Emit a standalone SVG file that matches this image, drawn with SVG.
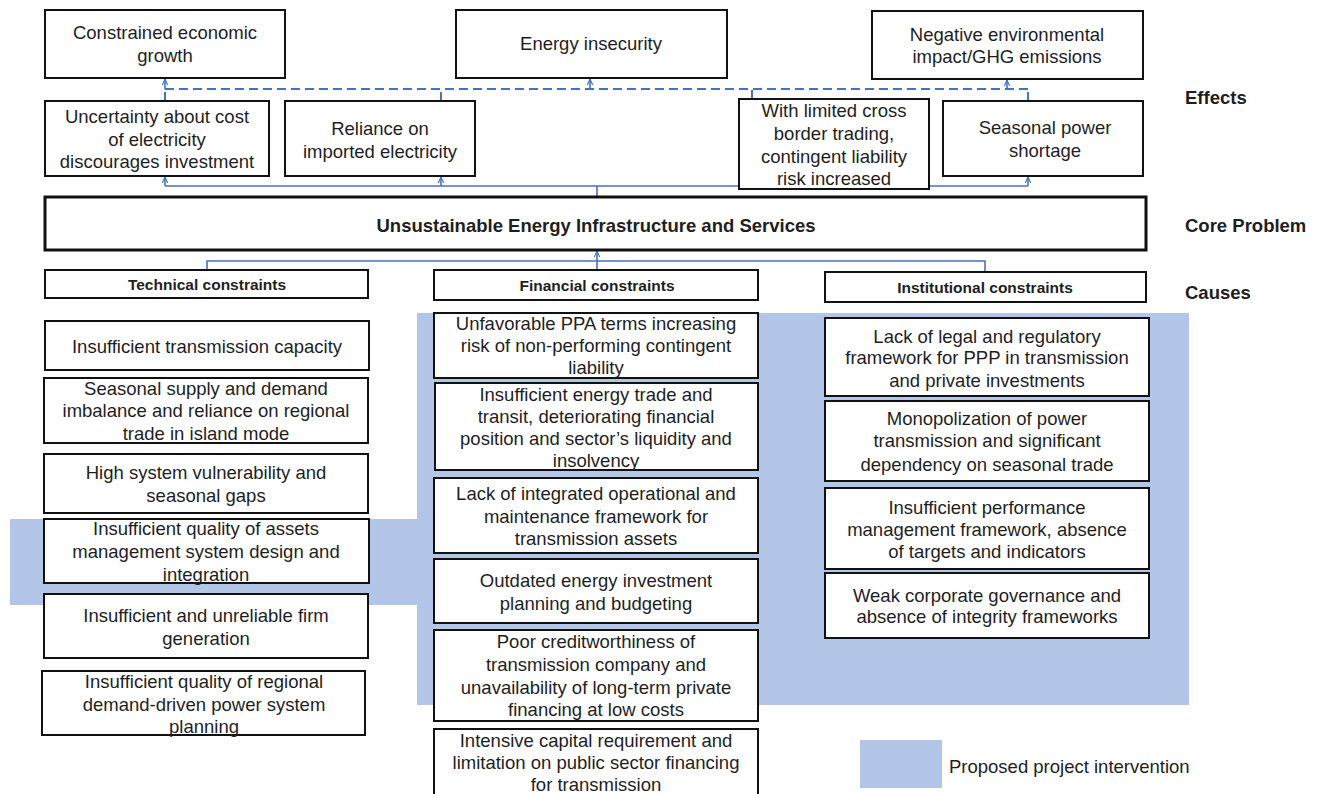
<svg xmlns="http://www.w3.org/2000/svg" width="1322" height="794" viewBox="0 0 1322 794">
<style>
text{font-family:"Liberation Sans",Arial,sans-serif;font-size:18.5px;fill:#1e1e1e;text-anchor:middle}
.b{font-weight:bold}
.h{font-weight:bold;font-size:15.5px}
.lbl{text-anchor:start;font-weight:bold}
.box{fill:#fff;stroke:#111;stroke-width:2}
.core{fill:#fff;stroke:#111;stroke-width:3}
.ln{fill:none;stroke:#4472c4;stroke-width:1.6}
.ds{fill:none;stroke:#4472c4;stroke-width:2;stroke-dasharray:9 5}
.iv{fill:#b4c6e7}
</style>
<defs>
<marker id="ah" viewBox="0 0 10 10" refX="9" refY="5" markerWidth="7" markerHeight="7" orient="auto" markerUnits="userSpaceOnUse">
<path d="M0,1 L9,5 L0,9" fill="none" stroke="#4472c4" stroke-width="1.6"/>
</marker>
</defs>
<rect width="1322" height="794" fill="#fff"/>
<g id="intervention">
<rect class="iv" x="417" y="313" width="772" height="392"/>
<rect class="iv" x="10" y="519" width="408" height="86"/>
</g>
<g id="connectors">
<path class="ds" d="M165,89 H1028"/>
<path class="ds" d="M165,101 V89"/>
<path class="ds" d="M441,101 V89"/>
<path class="ds" d="M752,99 V89"/>
<path class="ds" d="M1028,101 V89"/>
<path class="ln" d="M165,89 V79" marker-end="url(#ah)"/>
<path class="ln" d="M590,89 V79" marker-end="url(#ah)"/>
<path class="ln" d="M1007,89 V80" marker-end="url(#ah)"/>
<path class="ln" d="M597,197 V186 M165,186 H1028"/>
<path class="ln" d="M165,186 V177" marker-end="url(#ah)"/>
<path class="ln" d="M441,186 V177" marker-end="url(#ah)"/>
<path class="ln" d="M752,186 V177" marker-end="url(#ah)"/>
<path class="ln" d="M1028,186 V177" marker-end="url(#ah)"/>
<path class="ln" d="M207,270 V261 H985 V272"/>
<path class="ln" d="M597,270 V251" marker-end="url(#ah)"/>
</g>
<g id="e1"><rect class="box" x="45" y="10" width="240" height="68"/><text x="165" y="39">Constrained economic</text><text x="165" y="62">growth</text></g>
<g id="e2"><rect class="box" x="456" y="10" width="271" height="68"/><text x="591" y="50">Energy insecurity</text></g>
<g id="e3"><rect class="box" x="872" y="11" width="271" height="68"/><text x="1007" y="41">Negative environmental</text><text x="1007" y="63">impact/GHG emissions</text></g>
<g id="e4"><rect class="box" x="45" y="101" width="224" height="75"/><text x="157" y="123">Uncertainty about cost</text><text x="157" y="146">of electricity</text><text x="157" y="168">discourages investment</text></g>
<g id="e5"><rect class="box" x="285" y="101" width="190" height="75"/><text x="380" y="135">Reliance on</text><text x="380" y="158">imported electricity</text></g>
<g id="e6"><rect class="box" x="739" y="99" width="190" height="90" fill="none"/><text x="834" y="117">With limited cross</text><text x="834" y="140">border trading,</text><text x="834" y="163">contingent liability</text><text x="834" y="185">risk increased</text></g>
<g id="e7"><rect class="box" x="943" y="101" width="200" height="75"/><text x="1045" y="134">Seasonal power</text><text x="1045" y="157">shortage</text></g>
<g id="core"><rect class="core" x="45" y="197" width="1101" height="53"/><text class="b" x="596" y="232">Unsustainable Energy Infrastructure and Services</text></g>
<g id="labels">
<text class="lbl" x="1185" y="104">Effects</text>
<text class="lbl" x="1185" y="232">Core Problem</text>
<text class="lbl" x="1185" y="299">Causes</text>
</g>
<g id="tech"><rect class="box" x="45" y="270" width="323" height="28"/><text class="h" x="207" y="290">Technical constraints</text></g>
<g id="fin"><rect class="box" x="434" y="270" width="324" height="30"/><text class="h" x="597" y="291">Financial constraints</text></g>
<g id="inst"><rect class="box" x="825" y="272" width="321" height="30"/><text class="h" x="985" y="293">Institutional constraints</text></g>
<g id="t1"><rect class="box" x="45" y="321" width="324" height="49"/><text x="207" y="353">Insufficient transmission capacity</text></g>
<g id="t2"><rect class="box" x="44" y="378" width="324" height="65"/><text x="206" y="395">Seasonal supply and demand</text><text x="206" y="417">imbalance and reliance on regional</text><text x="206" y="440">trade in island mode</text></g>
<g id="t3"><rect class="box" x="44" y="454" width="324" height="59"/><text x="206" y="479">High system vulnerability and</text><text x="206" y="502">seasonal gaps</text></g>
<g id="t4"><rect class="box" x="44" y="519" width="325" height="64"/><text x="206" y="535">Insufficient quality of assets</text><text x="206" y="558">management system design and</text><text x="206" y="581">integration</text></g>
<g id="t5"><rect class="box" x="44" y="594" width="324" height="64"/><text x="206" y="622">Insufficient and unreliable firm</text><text x="206" y="645">generation</text></g>
<g id="t6"><rect class="box" x="42" y="671" width="323" height="64"/><text x="204" y="688">Insufficient quality of regional</text><text x="204" y="711">demand-driven power system</text><text x="204" y="733">planning</text></g>
<g id="f1"><rect class="box" x="434" y="313" width="324" height="65"/><text x="596" y="330">Unfavorable PPA terms increasing</text><text x="596" y="352">risk of non-performing contingent</text><text x="596" y="374">liability</text></g>
<g id="f2"><rect class="box" x="435" y="383" width="323" height="87"/><text x="596" y="401">Insufficient energy trade and</text><text x="596" y="423">transit, deteriorating financial</text><text x="596" y="445">position and sector’s liquidity and</text><text x="596" y="467">insolvency</text></g>
<g id="f3"><rect class="box" x="434" y="478" width="324" height="75"/><text x="596" y="500">Lack of integrated operational and</text><text x="596" y="523">maintenance framework for</text><text x="596" y="545">transmission assets</text></g>
<g id="f4"><rect class="box" x="434" y="559" width="324" height="64"/><text x="596" y="587">Outdated energy investment</text><text x="596" y="610">planning and budgeting</text></g>
<g id="f5"><rect class="box" x="434" y="630" width="324" height="91"/><text x="596" y="648">Poor creditworthiness of</text><text x="596" y="671">transmission company and</text><text x="596" y="694">unavailability of long-term private</text><text x="596" y="716">financing at low costs</text></g>
<g id="f6"><rect class="box" x="434" y="729" width="324" height="66"/><text x="596" y="747">Intensive capital requirement and</text><text x="596" y="769">limitation on public sector financing</text><text x="596" y="791">for transmission</text></g>
<g id="i1"><rect class="box" x="825" y="318" width="324" height="78"/><text x="987" y="343">Lack of legal and regulatory</text><text x="987" y="364">framework for PPP in transmission</text><text x="987" y="387">and private investments</text></g>
<g id="i2"><rect class="box" x="825" y="401" width="324" height="80"/><text x="987" y="425">Monopolization of power</text><text x="987" y="447">transmission and significant</text><text x="987" y="471">dependency on seasonal trade</text></g>
<g id="i3"><rect class="box" x="825" y="488" width="324" height="81"/><text x="987" y="514">Insufficient performance</text><text x="987" y="536">management framework, absence</text><text x="987" y="558">of targets and indicators</text></g>
<g id="i4"><rect class="box" x="825" y="573" width="324" height="65"/><text x="987" y="602">Weak corporate governance and</text><text x="987" y="623">absence of integrity frameworks</text></g>
<g id="legend"><rect class="iv" x="860" y="740" width="82" height="48"/><text x="949" y="773" style="text-anchor:start">Proposed project intervention</text></g>
</svg>
